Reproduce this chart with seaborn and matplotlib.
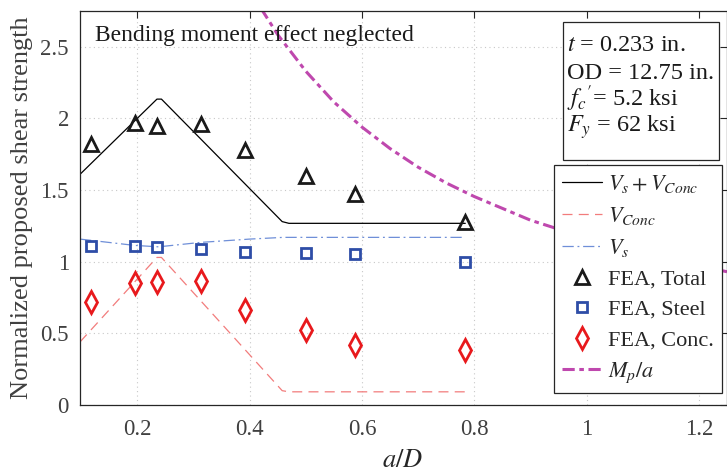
import numpy as np
import pandas as pd
import matplotlib
matplotlib.use("Agg")
import matplotlib.pyplot as plt
from matplotlib.patches import Rectangle
import seaborn as sns

# ---- data ----
aD = [0.1176, 0.196, 0.235, 0.314, 0.392, 0.5, 0.588, 0.784]
fea_total = [1.82, 1.97, 1.95, 1.96, 1.78, 1.60, 1.47, 1.28]
fea_steel = [1.107, 1.109, 1.10, 1.09, 1.07, 1.058, 1.053, 0.997]
fea_conc = [0.716, 0.849, 0.86, 0.865, 0.662, 0.523, 0.418, 0.383]

vtot_x = [0.098, 0.235, 0.243, 0.458, 0.47, 0.784]
vtot_y = [1.61, 2.135, 2.135, 1.28, 1.268, 1.268]
vconc_x = [0.098, 0.235, 0.243, 0.458, 0.47, 0.784]
vconc_y = [0.44, 1.03, 1.03, 0.10, 0.092, 0.092]
vs_x = [0.098, 0.195, 0.238, 0.313, 0.4, 0.46, 0.784]
vs_y = [1.158, 1.114, 1.104, 1.135, 1.158, 1.17, 1.17]

mp_x = [0.42, 0.45, 0.5, 0.55, 0.6, 0.65, 0.7, 0.75, 0.8, 0.9, 1.0, 1.1, 1.25]
mp_y = [2.77, 2.585, 2.33, 2.115, 1.94, 1.79, 1.66, 1.55, 1.455, 1.29, 1.165, 1.06, 0.93]

x_ticks = [0.2, 0.4, 0.6, 0.8, 1.0, 1.2]
x_ticklabels = ["0.2", "0.4", "0.6", "0.8", "1", "1.2"]
y_ticks = [0, 0.5, 1, 1.5, 2, 2.5]
y_ticklabels = ["0", "0.5", "1", "1.5", "2", "2.5"]

info_lines = ["$t$ = 0.233 in.", "OD = 12.75 in.", r"$f_c{}'$= 5.2 ksi", "$F_y$ = 62 ksi"]

# ---- style ----
sns.set_theme(style="white")
plt.rcParams["font.family"] = ["Liberation Serif", "DejaVu Serif"]
plt.rcParams["mathtext.fontset"] = "stix"
axcol = "#262626"
W, H = 727, 476

fig = plt.figure(figsize=(7.27, 4.76), dpi=100)
ax = fig.add_axes([80 / W, 71 / H, 647 / W, (405 - 11) / H])

def ax_xy(px, py):
    """convert reference pixel position to axes fraction"""
    return (px - 80) / 647, (405 - py) / 394

# model lines
sns.lineplot(x=vtot_x, y=vtot_y, ax=ax, color="black", lw=0.9, sort=False,
             estimator=None, label=r"$V_s + V_{Conc}$")
sns.lineplot(x=vconc_x, y=vconc_y, ax=ax, color="#F27C7C", lw=0.9, sort=False,
             estimator=None, dashes=(8, 5), label=r"$V_{Conc}$")
sns.lineplot(x=vs_x, y=vs_y, ax=ax, color="#6F8FD8", lw=0.9, sort=False,
             estimator=None, label=r"$V_s$")
ax.lines[-1].set_linestyle((0, (9, 3, 1.5, 3)))

# FEA markers
sns.lineplot(x=aD, y=fea_total, ax=ax, sort=False, estimator=None, linestyle="",
             marker="^", markersize=9.5, markerfacecolor="none",
             markeredgecolor="#1a1a1a", markeredgewidth=2, color="#1a1a1a",
             label="FEA, Total")
sns.lineplot(x=aD, y=fea_steel, ax=ax, sort=False, estimator=None, linestyle="",
             marker="s", markersize=6.5, markerfacecolor="none",
             markeredgecolor="#2E4DA7", markeredgewidth=2, color="#2E4DA7",
             label="FEA, Steel")
sns.lineplot(x=aD, y=fea_conc, ax=ax, sort=False, estimator=None, linestyle="",
             marker="d", markersize=11, markerfacecolor="none",
             markeredgecolor="#E8191C", markeredgewidth=2, color="#E8191C",
             label="FEA, Conc.")

# Mp/a
sns.lineplot(x=mp_x, y=mp_y, ax=ax, color="#BF48AE", lw=2.2, sort=False,
             estimator=None, label=r"$M_p/a$")
ax.lines[-1].set_linestyle((0, (4, 1.5, 1.5, 1.5)))

ax.set_xlim(0.098, 1.25)
ax.set_ylim(0, 2.75)
ax.set_xticks(x_ticks)
ax.set_xticklabels(x_ticklabels)
ax.set_yticks(y_ticks)
ax.set_yticklabels(y_ticklabels)
ax.tick_params(direction="in", length=5, width=0.8, top=True, right=True,
               labelsize=16.5, colors=axcol, labelcolor="#404040", pad=8)
ax.tick_params(axis="x", pad=10)
for s in ax.spines.values():
    s.set_color(axcol)
    s.set_linewidth(0.9)
ax.grid(True, linestyle=(0, (1, 3)), color="#c8c8c8", lw=0.8)
ax.set_axisbelow(True)

ax.set_xlabel(r"$a/D$", fontsize=19, color=axcol)
ax.xaxis.label.set_va("center")
ax.xaxis.set_label_coords((403 - 80) / 647, (405 - 461) / 394)
ax.set_ylabel("Normalized proposed shear strength", fontsize=19, color="#404040",
              labelpad=5)

fig.text(95 / W, 1 - 36 / H, "Bending moment effect neglected", fontsize=17,
         color="#1a1a1a", va="center", ha="left")

# info box
x0, y0 = ax_xy(563, 160)
x1, y1 = ax_xy(719, 22)
ax.add_patch(Rectangle((x0, y0), x1 - x0, y1 - y0, transform=ax.transAxes,
                       fc="white", ec=axcol, lw=0.9, zorder=5))
for ln, yb in zip(info_lines, [51, 79, 106, 132]):
    tx, ty = ax_xy(567, yb)
    ax.text(tx, ty, ln, transform=ax.transAxes, fontsize=17.5, va="baseline",
            ha="left", color="#1a1a1a", zorder=6)

handles, labels = ax.get_legend_handles_labels()
leg = ax.legend(handles, labels, loc="upper right",
                bbox_to_anchor=ax_xy(722, 165),
                borderaxespad=0, fontsize=16, frameon=True, fancybox=False,
                framealpha=1, edgecolor=axcol, handlelength=1.8,
                handletextpad=0.3, labelspacing=0.45, borderpad=0.35)
leg.get_frame().set_linewidth(0.9)
leg.set_zorder(7)

fig.savefig("out.png", dpi=100)
